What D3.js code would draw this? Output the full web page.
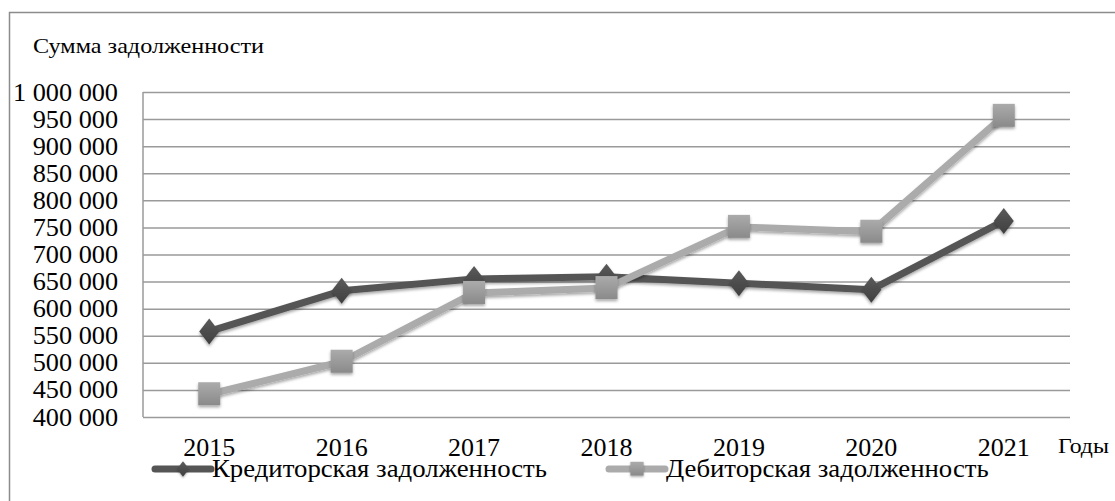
<!DOCTYPE html>
<html lang="ru">
<head>
<meta charset="UTF-8">
<title>Сумма задолженности</title>
<script src="https://cdn.jsdelivr.net/npm/d3@7/dist/d3.min.js"></script>
<style>
    body { margin: 0; background: #fff; }
</style>
</head>
<body>
<svg id="mainsvg" width="1115" height="501"></svg>
<script>
    // data
    const years = ['2015', '2016', '2017', '2018', '2019', '2020', '2021'];
    const kreditor = [558000, 633000, 655000, 659000, 647000, 635000, 762000];
    const debitor = [442000, 502000, 629000, 638000, 751000, 742000, 956000];
    const yTicks = [400000, 450000, 500000, 550000, 600000, 650000, 700000, 750000, 800000, 850000, 900000, 950000, 1000000];
    const seriesNames = ['Кредиторская задолженность', 'Дебиторская задолженность'];

    const FONT = "'Liberation Serif', 'Times New Roman', Times, 'DejaVu Serif', serif";

    const mainsvg = d3.select('#mainsvg');
    const margin = {top: 92, left: 143, right: 45, bottom: 84};
    const width = +mainsvg.attr('width'), height = +mainsvg.attr('height');
    const innerW = width - margin.left - margin.right;
    const innerH = height - margin.top - margin.bottom;

    // the reference text is a bit wider than the font, widen it
    const stretch = (sel, k) => sel.each(function () {
        const len = this.getComputedTextLength();
        d3.select(this).attr('textLength', len * k).attr('lengthAdjust', 'spacingAndGlyphs');
    });

    // gradients + shadow
    const defs = mainsvg.append('defs');
    const gSq = defs.append('linearGradient').attr('id', 'gsq').attr('x1', 0).attr('y1', 0).attr('x2', 0).attr('y2', 1);
    gSq.append('stop').attr('offset', '0%').attr('stop-color', '#ababab');
    gSq.append('stop').attr('offset', '100%').attr('stop-color', '#8a8a8a');
    const gDm = defs.append('linearGradient').attr('id', 'gdm').attr('x1', 0).attr('y1', 0).attr('x2', 0).attr('y2', 1);
    gDm.append('stop').attr('offset', '0%').attr('stop-color', '#5a5a5a');
    gDm.append('stop').attr('offset', '100%').attr('stop-color', '#3f3f3f');
    const sh = defs.append('filter').attr('id', 'shadow').attr('x', '-50%').attr('y', '-50%').attr('width', '200%').attr('height', '200%');
    sh.append('feDropShadow').attr('dx', 0).attr('dy', 2).attr('stdDeviation', 1.6)
        .attr('flood-color', '#000').attr('flood-opacity', 0.35);

    // outer frame
    mainsvg.append('rect')
        .attr('x', 9.5).attr('y', 12.5)
        .attr('width', width + 20).attr('height', height + 20)
        .attr('fill', 'none').attr('stroke', '#8c8c8c').attr('stroke-width', 1.5);

    const g = mainsvg.append('g').attr('transform', `translate(${margin.left}, ${margin.top})`);

    const x = d3.scaleBand().domain(years).range([0, innerW]);
    const y = d3.scaleLinear().domain([400000, 1000000]).range([innerH, 0]);

    const fmt = v => d3.format(',')(v).replace(/,/g, ' ');

    // gridlines
    g.append('g')
        .call(d3.axisLeft(y).tickValues(yTicks).tickSize(-innerW).tickFormat(''))
        .call(a => a.select('.domain').remove())
        .call(a => a.selectAll('line').attr('stroke', '#9a9a9a').attr('stroke-width', 1.5));

    // left border of plot
    g.append('line').attr('x1', 0).attr('x2', 0).attr('y1', 0).attr('y2', innerH)
        .attr('stroke', '#9a9a9a').attr('stroke-width', 1.5);

    // y tick labels
    g.append('g')
        .call(d3.axisLeft(y).tickValues(yTicks).tickSize(0).tickPadding(25).tickFormat(fmt))
        .call(a => a.select('.domain').remove())
        .call(a => a.selectAll('text').style('font-size', '25px').style('font-family', FONT).attr('fill', '#000'))
        .call(a => stretch(a.selectAll('text'), 1.05));

    // x tick labels
    g.append('g')
        .attr('transform', `translate(0, ${innerH})`)
        .call(d3.axisBottom(x).tickSize(0).tickPadding(21))
        .call(a => a.select('.domain').remove())
        .call(a => a.selectAll('text').style('font-size', '25px').style('font-family', FONT).attr('fill', '#000'))
        .call(a => stretch(a.selectAll('text'), 1.04));

    // titles
    mainsvg.append('text').attr('x', 33).attr('y', 53)
        .style('font-size', '22px').style('font-family', FONT).text('Сумма задолженности')
        .call(t => stretch(t, 1.1));
    mainsvg.append('text').attr('x', 1058).attr('y', 453)
        .style('font-size', '22px').style('font-family', FONT).text('Годы')
        .call(t => stretch(t, 1.08));

    const cx = d => x(d) + x.bandwidth() / 2;
    const line = d3.line().x(d => cx(d.year)).y(d => y(d.value));

    const series = [
        {name: seriesNames[0], values: kreditor, color: '#555555', marker: 'diamond'},
        {name: seriesNames[1], values: debitor, color: '#ababab', marker: 'square'}
    ];

    const drawMarker = (sel, type) => {
        if (type === 'diamond') {
            sel.append('path').attr('d', 'M0,-13L10,0L0,13L-10,0Z')
                .attr('fill', 'url(#gdm)').attr('filter', 'url(#shadow)');
        } else {
            sel.append('rect').attr('x', -11).attr('y', -12).attr('width', 22).attr('height', 23)
                .attr('fill', 'url(#gsq)').attr('filter', 'url(#shadow)');
        }
    };

    series.forEach(s => {
        const pts = years.map((yr, i) => ({year: yr, value: s.values[i]}));
        g.append('path').datum(pts)
            .attr('d', line)
            .attr('fill', 'none')
            .attr('stroke', s.color)
            .attr('stroke-width', 7)
            .attr('stroke-linejoin', 'round')
            .attr('filter', 'url(#shadow)');
        g.selectAll(null).data(pts).join('g')
            .attr('transform', d => `translate(${cx(d.year)}, ${y(d.value)})`)
            .each(function () { drawMarker(d3.select(this), s.marker); });
    });

    // legend
    const legendPos = [{x: 155, y: 469}, {x: 609, y: 469}];
    series.forEach((s, i) => {
        const lg = mainsvg.append('g').attr('transform', `translate(${legendPos[i].x}, ${legendPos[i].y})`);
        lg.append('line').attr('x1', 0).attr('x2', 56).attr('y1', 0).attr('y2', 0)
            .attr('stroke', s.color).attr('stroke-width', 7).attr('stroke-linecap', 'round');
        const m = lg.append('g').attr('transform', 'translate(28,0) scale(0.6)');
        drawMarker(m, s.marker);
        lg.append('text').attr('x', 57).attr('y', 8)
            .style('font-size', '25px').style('font-family', FONT).text(s.name)
            .call(t => stretch(t, 1.07));
    });
</script>
</body>
</html>
